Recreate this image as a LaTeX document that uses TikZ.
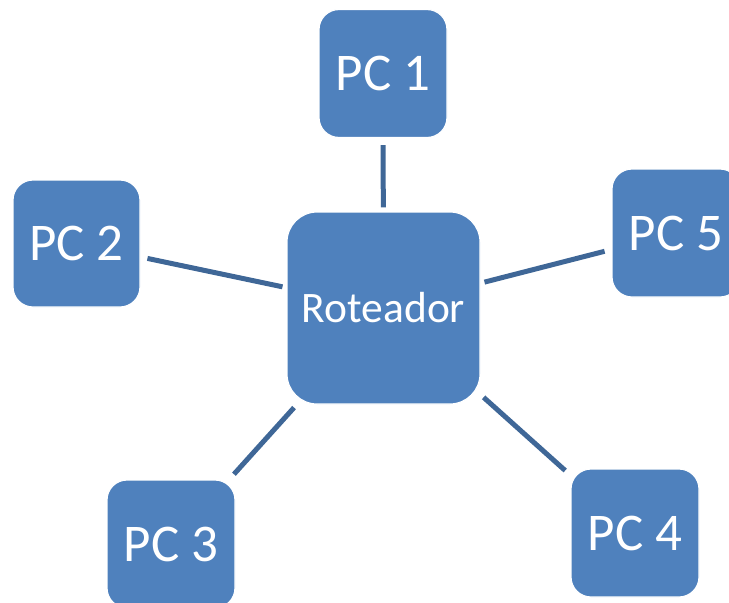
\documentclass[tikz,border=0pt]{standalone}
\usepackage{fontspec}
\setmainfont{Carlito}
\definecolor{boxblue}{HTML}{4F81BD}
\definecolor{linkblue}{HTML}{3F6797}
\begin{document}
\begin{tikzpicture}[x=1pt,y=-1pt,
  pcbox/.style={fill=boxblue, draw=white, line width=1.2pt, rounded corners=20pt,
    minimum width=128pt, minimum height=128pt, inner sep=0pt,
    text=white, font=\fontsize{53}{60}\selectfont},
  hubbox/.style={fill=boxblue, draw=white, line width=1.2pt, rounded corners=30pt,
    minimum width=193pt, minimum height=192pt, inner sep=0pt,
    text=white, font=\fontsize{43.5}{50}\selectfont},
  link/.style={draw=linkblue, line width=5pt, shorten <=7pt, shorten >=4pt}]
  \clip (0,0) rectangle (729,603);
  \useasboundingbox (0,0) rectangle (729,603);

  % router in the middle, five PCs around it
  \node[hubbox] (r) at (383.5,308) {Roteador};
  \node[pcbox] (pc1) at (383,73.5) {PC 1};
  \node[pcbox, minimum width=127pt, minimum height=127pt] (pc2) at (76.5,243.5) {PC 2};
  \node[pcbox] (pc3) at (171,544) {PC 3};
  \node[pcbox] (pc4) at (635,533) {PC 4};
  \node[pcbox] (pc5) at (676,233) {PC 5};

  \foreach \p in {pc1,pc2,pc3,pc4,pc5}
    \draw[link] (\p) -- (r);
\end{tikzpicture}
\end{document}
